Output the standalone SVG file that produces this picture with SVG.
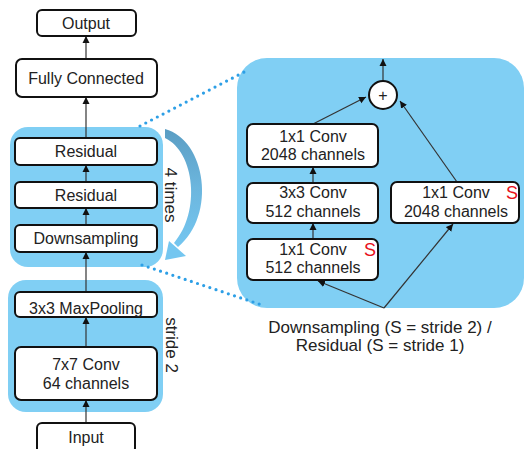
<svg xmlns="http://www.w3.org/2000/svg" width="525" height="449" viewBox="0 0 525 449">
<defs>
<style>
.panel{fill:#80cff4;}
.box{fill:#fff;stroke:#111;stroke-width:2;}
.t{font-family:"Liberation Sans",Arial,sans-serif;font-size:16px;fill:#222;text-anchor:middle;}
.s{font-family:"Liberation Sans",Arial,sans-serif;font-size:18px;fill:#e8101a;text-anchor:middle;}
.cap{font-family:"Liberation Sans",Arial,sans-serif;font-size:17px;fill:#222;text-anchor:middle;}
.c{stroke:#333;stroke-width:1.2;fill:none;marker-end:url(#ah);}
.dot{stroke:#2d9fe6;stroke-width:3.2;stroke-dasharray:0 6.5;stroke-linecap:round;fill:none;}
</style>
<marker id="ah" markerUnits="userSpaceOnUse" markerWidth="8" markerHeight="8" refX="7" refY="4" orient="auto">
<path d="M0,0.5 L7,4 L0,7.5 z" fill="#111"/>
</marker>
<linearGradient id="g" x1="0" y1="0" x2="0" y2="1">
<stop offset="0" stop-color="#5a9dc3"/>
<stop offset="0.5" stop-color="#6cb6de"/>
<stop offset="1" stop-color="#74c6f0"/>
</linearGradient>
</defs>

<g id="panels">
<rect class="panel" x="10" y="127" width="153" height="140" rx="18"/>
<rect class="panel" x="8" y="280" width="155" height="132" rx="18"/>
<rect class="panel" x="237" y="58" width="287" height="250" rx="30"/>
</g>

<g id="zoom-lines">
<line class="dot" x1="140" y1="126" x2="248" y2="70"/>
<line class="dot" x1="142" y1="265" x2="262" y2="305"/>
</g>

<g id="repeat-arrow">
<path d="M165,129 C206,140 217,215 178,247 L174,243 C201,212 195,152 165,138 Z" fill="url(#g)"/>
<polygon points="165,260 169,241 186,256" fill="#74c6f0"/>
<text class="t" transform="translate(165,195) rotate(90)" style="font-size:17px">4 times</text>
</g>

<g id="stride-label">
<text class="t" transform="translate(166,345) rotate(90)" style="font-size:17px">stride 2</text>
</g>

<g id="connectors">
<line class="c" x1="86" y1="59" x2="86" y2="36"/>
<line class="c" x1="86" y1="138" x2="86" y2="97"/>
<line class="c" x1="86" y1="182" x2="86" y2="165"/>
<line class="c" x1="86" y1="225" x2="86" y2="208"/>
<line class="c" x1="86" y1="292" x2="86" y2="252"/>
<line class="c" x1="86" y1="347" x2="86" y2="317"/>
<line class="c" x1="86" y1="423" x2="86" y2="400"/>
<line class="c" x1="383" y1="81" x2="383" y2="59"/>
<line class="c" x1="313" y1="124" x2="366" y2="97"/>
<line class="c" x1="457" y1="182" x2="400" y2="101"/>
<line class="c" x1="313" y1="183" x2="313" y2="167"/>
<line class="c" x1="313" y1="239" x2="313" y2="223"/>
<line class="c" x1="384" y1="308" x2="318" y2="281"/>
<line class="c" x1="384" y1="308" x2="453" y2="224"/>
</g>

<g id="output">
<rect class="box" x="37" y="10" width="99" height="26" rx="5"/>
<text class="t" x="86" y="29">Output</text>
</g>
<g id="fully-connected">
<rect class="box" x="16" y="59" width="141" height="38" rx="6"/>
<text class="t" x="86" y="84">Fully Connected</text>
</g>
<g id="residual-1">
<rect class="box" x="15" y="138" width="142" height="27" rx="5"/>
<text class="t" x="86" y="157">Residual</text>
</g>
<g id="residual-2">
<rect class="box" x="15" y="182" width="142" height="26" rx="5"/>
<text class="t" x="86" y="201">Residual</text>
</g>
<g id="downsampling">
<rect class="box" x="15" y="225" width="142" height="27" rx="5"/>
<text class="t" x="86" y="244">Downsampling</text>
</g>
<g id="maxpooling">
<rect class="box" x="15" y="292" width="142" height="25" rx="5"/>
<text class="t" x="86" y="314">3x3 MaxPooling</text>
</g>
<g id="conv7">
<rect class="box" x="15" y="347" width="142" height="53" rx="6"/>
<text class="t" x="86" y="370">7x7 Conv</text>
<text class="t" x="86" y="389">64 channels</text>
</g>
<g id="input">
<rect class="box" x="37" y="423" width="98" height="30" rx="5"/>
<text class="t" x="86" y="443">Input</text>
</g>

<g id="add">
<circle cx="383" cy="95" r="14" fill="#fff" stroke="#111" stroke-width="2"/>
<text class="t" x="383" y="101">+</text>
</g>
<g id="conv1-2048">
<rect class="box" x="247" y="124" width="131" height="43" rx="6"/>
<text class="t" x="313" y="142">1x1 Conv</text>
<text class="t" x="313" y="160">2048 channels</text>
</g>
<g id="conv3-512">
<rect class="box" x="247" y="183" width="131" height="40" rx="6"/>
<text class="t" x="313" y="198">3x3 Conv</text>
<text class="t" x="313" y="217">512 channels</text>
</g>
<g id="conv1-512">
<rect class="box" x="247" y="239" width="131" height="41" rx="6"/>
<text class="t" x="313" y="255">1x1 Conv</text>
<text class="t" x="313" y="273">512 channels</text>
<text class="s" x="370" y="256">S</text>
</g>
<g id="shortcut-conv">
<rect class="box" x="391" y="182" width="128" height="41" rx="6"/>
<text class="t" x="456" y="198">1x1 Conv</text>
<text class="t" x="456" y="217">2048 channels</text>
<text class="s" x="512" y="199">S</text>
</g>

<g id="caption">
<text class="cap" x="380" y="333">Downsampling (S = stride 2) /</text>
<text class="cap" x="380" y="351">Residual (S = stride 1)</text>
</g>
</svg>
